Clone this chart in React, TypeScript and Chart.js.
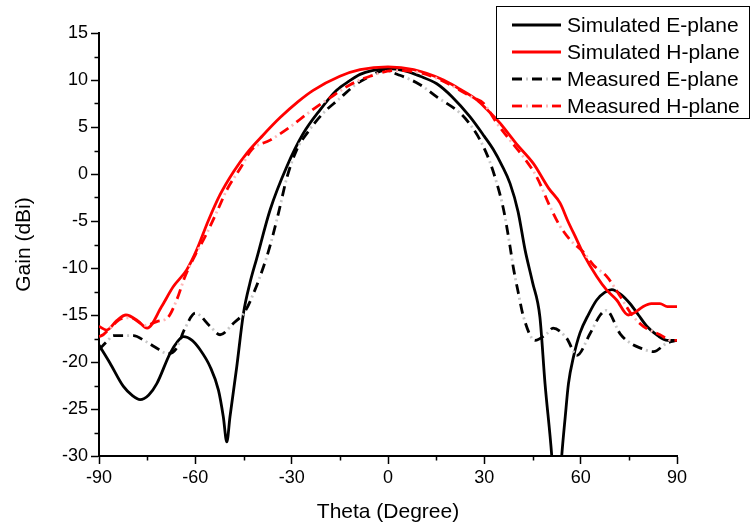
import React, { useEffect, useRef } from "react";
import { Chart, registerables } from "chart.js";

Chart.register(...registerables);

// ---------------- data ----------------
const simEAngle = [-90, -86.6, -82.4, -79.5, -77.2, -74.5, -72, -67.9, -65.5, -63.7, -61, -58.5, -55.4, -52.8, -51.3, -50.2, -49.2, -47.1, -45, -43, -40.9, -36.7, -31.5, -26.4, -21.2, -16, -12, -8.7, -5, 0, 5, 10, 15.2, 20, 25.5, 30, 32.8, 35.5, 38, 40.5, 42.7, 45, 47.3, 48.9, 51, 52.5, 54.1, 55.2, 56.2, 57.8, 59.8, 62.5, 65, 67.5, 69.7, 72.5, 75.4, 78, 80.6, 84, 87, 90];
const simEGain = [-18.2, -20.1, -22.6, -23.6, -24.0, -23.5, -22.3, -19.1, -17.8, -17.3, -17.7, -18.7, -20.5, -23.0, -25.8, -28.5, -25.8, -20.5, -14.8, -11.6, -9.0, -3.8, 0.8, 4.3, 6.8, 8.9, 9.9, 10.6, 11.0, 11.2, 11.0, 10.4, 9.6, 8.2, 6.1, 4.0, 2.6, 0.9, -1.0, -4.0, -8.1, -11.5, -15.2, -22.3, -30, -38, -30, -25.8, -22.3, -19.4, -16.9, -14.9, -13.4, -12.6, -12.3, -12.8, -13.8, -15.0, -16.2, -17.2, -17.7, -17.7];

const simHAngle = [-90, -87.6, -84.5, -81.6, -78, -75, -70.5, -66.9, -62.7, -59.6, -56, -52.3, -48, -44, -39, -33.6, -28, -23.3, -15, -8.7, 0, 8, 17.3, 22, 27.6, 31, 34.9, 40, 45.3, 50, 53.6, 56, 58.8, 61, 65, 68, 71.2, 74.8, 77, 79.5, 82, 84.7, 87, 90];
const simHGain = [-16.2, -16.6, -15.6, -15.0, -15.6, -16.4, -14.1, -12.0, -10.2, -8.1, -5.0, -2.2, 0.3, 2.2, 4.1, 6.0, 7.7, 8.9, 10.4, 11.1, 11.4, 11.1, 10.0, 9.1, 7.9, 6.8, 5.4, 3.2, 1.1, -1.5, -3.1, -5.0, -7.0, -8.6, -10.9, -12.3, -13.4, -15.0, -14.7, -14.1, -13.8, -13.8, -14.1, -14.1];

const measEAngle = [-90, -87.5, -85.5, -79.3, -75.5, -72.6, -68.5, -66, -63.2, -60, -55.4, -52.3, -48.2, -44.5, -41.4, -38.8, -36.7, -34, -31.5, -28.4, -25.3, -20.1, -15.5, -9.7, -5, -1.5, 3.7, 10, 15.2, 22.4, 25.5, 28.7, 31.5, 33.9, 36, 38, 39, 40.5, 42.2, 45.8, 49.4, 51.4, 55.7, 58.8, 62.9, 66.1, 68, 72.3, 75.5, 78.5, 82.7, 86.8, 90];
const measEGain = [-18.7, -17.8, -17.2, -17.2, -17.8, -18.4, -19.1, -18.6, -16.4, -14.8, -16.2, -17.1, -15.9, -14.6, -12.3, -9.9, -7.6, -4.0, -0.4, 2.6, 4.3, 6.5, 7.9, 9.6, 10.5, 11.0, 10.5, 9.5, 8.2, 6.5, 5.3, 3.6, 1.5, -1.0, -3.8, -7.7, -9.9, -12.5, -15.2, -17.7, -17.0, -16.4, -17.5, -19.3, -17.0, -15.0, -14.5, -17.0, -18.0, -18.5, -18.9, -18.0, -17.7];

const measHAngle = [-90, -88.7, -86, -83, -80, -77.5, -75.7, -72, -68.4, -65.8, -63.2, -60, -57, -53, -50.2, -46, -42.4, -36.7, -30.5, -24.8, -18.1, -11.8, -5.6, 1.7, 8, 15, 22, 26, 29.8, 33.9, 38, 42.2, 46.3, 50.5, 53.5, 56.7, 60.8, 64, 68.1, 72.3, 76, 79.5, 84.7, 88.3, 90];
const measHGain = [-17.3, -17.1, -16.2, -15.4, -15.3, -15.8, -16.1, -15.7, -15.2, -13.4, -10.9, -8.6, -6.7, -3.8, -1.7, 0.6, 2.6, 3.6, 5.0, 6.5, 8.1, 9.5, 10.4, 11.0, 10.9, 10.2, 9.0, 8.2, 7.5, 5.4, 3.6, 1.8, -0.3, -3.5, -5.5, -7.0, -8.3, -9.7, -10.9, -13.0, -15.0, -16.2, -17.1, -17.7, -17.7];

const seriesNames = ["Simulated E-plane", "Simulated H-plane", "Measured E-plane", "Measured H-plane"];
const seriesColors = ["#000000", "#ff0000", "#000000", "#ff0000"];
const dotColors = ["", "", "#c8c8c8", "#ffb8b8"];

const xMajorTicks = [-90, -60, -30, 0, 30, 60, 90];
const xMinorTicks = [-75, -45, -15, 15, 45, 75];
const yMinorTicks = [12.5, 7.5, 2.5, -2.5, -7.5, -12.5, -17.5, -22.5, -27.5];

const FONT = "'Liberation Sans', Arial, Helvetica, sans-serif";

const toPts = (a: number[], g: number[]) => a.map((x, i) => ({ x, y: g[i] }));

const minorTickPlugin = {
  id: "minorTicks",
  afterDraw(chart: any) {
    const { ctx } = chart;
    const xs = chart.scales.x;
    const ys = chart.scales.y;
    ctx.save();
    ctx.strokeStyle = "#000";
    ctx.lineWidth = 1.5;
    ctx.beginPath();
    for (const v of xMinorTicks) {
      const px = Math.round(xs.getPixelForValue(v)) + 0.5;
      ctx.moveTo(px, xs.top);
      ctx.lineTo(px, xs.top + 4.5);
    }
    for (const v of yMinorTicks) {
      const py = Math.round(ys.getPixelForValue(v)) + 0.5;
      ctx.moveTo(ys.right, py);
      ctx.lineTo(ys.right - 4.5, py);
    }
    ctx.stroke();
    ctx.restore();
  },
};

const legendPlugin = {
  id: "customLegend",
  afterDraw(chart: any) {
    const { ctx } = chart;
    ctx.save();
    const bx = 496.5, by = 6.5, bw = 253, bh = 112;
    ctx.fillStyle = "#fff";
    ctx.fillRect(bx, by, bw, bh);
    ctx.strokeStyle = "#000";
    ctx.lineWidth = 1;
    ctx.strokeRect(bx, by, bw, bh);
    const rowY = [25, 52, 79, 106];
    ctx.font = `21px ${FONT}`;
    ctx.textBaseline = "middle";
    ctx.textAlign = "left";
    seriesNames.forEach((name, i) => {
      const y = rowY[i];
      ctx.lineWidth = 2.8;
      if (i >= 2) {
        ctx.strokeStyle = dotColors[i];
        ctx.setLineDash([2, 18]);
        ctx.lineDashOffset = 6;
        ctx.beginPath();
        ctx.moveTo(512, y);
        ctx.lineTo(561, y);
        ctx.stroke();
        ctx.setLineDash([10, 10]);
        ctx.lineDashOffset = 0;
      } else {
        ctx.setLineDash([]);
      }
      ctx.strokeStyle = seriesColors[i];
      ctx.beginPath();
      ctx.moveTo(512, y);
      ctx.lineTo(561, y);
      ctx.stroke();
      ctx.setLineDash([]);
      ctx.fillStyle = "#000";
      ctx.fillText(name, 567, y + 1);
    });
    ctx.restore();
  },
};

export default function App() {
  const canvasRef = useRef<HTMLCanvasElement | null>(null);

  useEffect(() => {
    if (!canvasRef.current) return;
    const common = {
      pointRadius: 0,
      borderWidth: 2.8,
      fill: false,
      cubicInterpolationMode: "monotone" as const,
    };
    const chart = new Chart(canvasRef.current, {
      type: "line",
      data: {
        datasets: [
          { ...common, label: seriesNames[0], data: toPts(simEAngle, simEGain), borderColor: seriesColors[0], order: 4 },
          { ...common, label: seriesNames[1], data: toPts(simHAngle, simHGain), borderColor: seriesColors[1], order: 3 },
          { ...common, label: seriesNames[2] + " dots", data: toPts(measEAngle, measEGain), borderColor: dotColors[2], borderDash: [2, 18], borderDashOffset: 6, order: 2.5 },
          { ...common, label: seriesNames[2], data: toPts(measEAngle, measEGain), borderColor: seriesColors[2], borderDash: [10, 10], order: 2 },
          { ...common, label: seriesNames[3] + " dots", data: toPts(measHAngle, measHGain), borderColor: dotColors[3], borderDash: [2, 18], borderDashOffset: 6, order: 1.5 },
          { ...common, label: seriesNames[3], data: toPts(measHAngle, measHGain), borderColor: seriesColors[3], borderDash: [10, 10], order: 1 },
        ],
      },
      options: {
        responsive: false,
        animation: false,
        layout: { padding: { top: 33, right: 76, left: 0, bottom: 0 } },
        plugins: {
          legend: { display: false },
          tooltip: { enabled: false },
        },
        scales: {
          x: {
            type: "linear",
            min: -90,
            max: 90,
            afterFit: (s: any) => { s.height = 74; },
            afterBuildTicks: (s: any) => { s.ticks = xMajorTicks.map((v) => ({ value: v })); },
            border: { display: true, color: "#000", width: 2 },
            grid: { display: true, drawOnChartArea: false, drawTicks: true, tickLength: 8, tickColor: "#000", tickWidth: 1.5 },
            ticks: { color: "#000", font: { family: FONT, size: 18 }, padding: 3, maxRotation: 0 },
            title: { display: true, text: "Theta (Degree)", color: "#000", font: { family: FONT, size: 21 }, padding: { top: 0, bottom: 5 } },
          },
          y: {
            type: "linear",
            min: -30,
            max: 15,
            afterFit: (s: any) => { s.width = 99; },
            border: { display: true, color: "#000", width: 2 },
            grid: { display: true, drawOnChartArea: false, drawTicks: true, tickLength: 8, tickColor: "#000", tickWidth: 1.5 },
            ticks: { color: "#000", font: { family: FONT, size: 18 }, padding: 3, stepSize: 5 },
            title: { display: true, text: "Gain (dBi)", color: "#000", font: { family: FONT, size: 21 }, padding: { top: 12, bottom: 0 } },
          },
        },
      },
      plugins: [minorTickPlugin, legendPlugin],
    });
    return () => chart.destroy();
  }, []);

  return (
    <div style={{ position: "absolute", left: 0, top: 0, width: 753, height: 530, background: "#fff" }}>
      <canvas ref={canvasRef} width={753} height={530} />
    </div>
  );
}
